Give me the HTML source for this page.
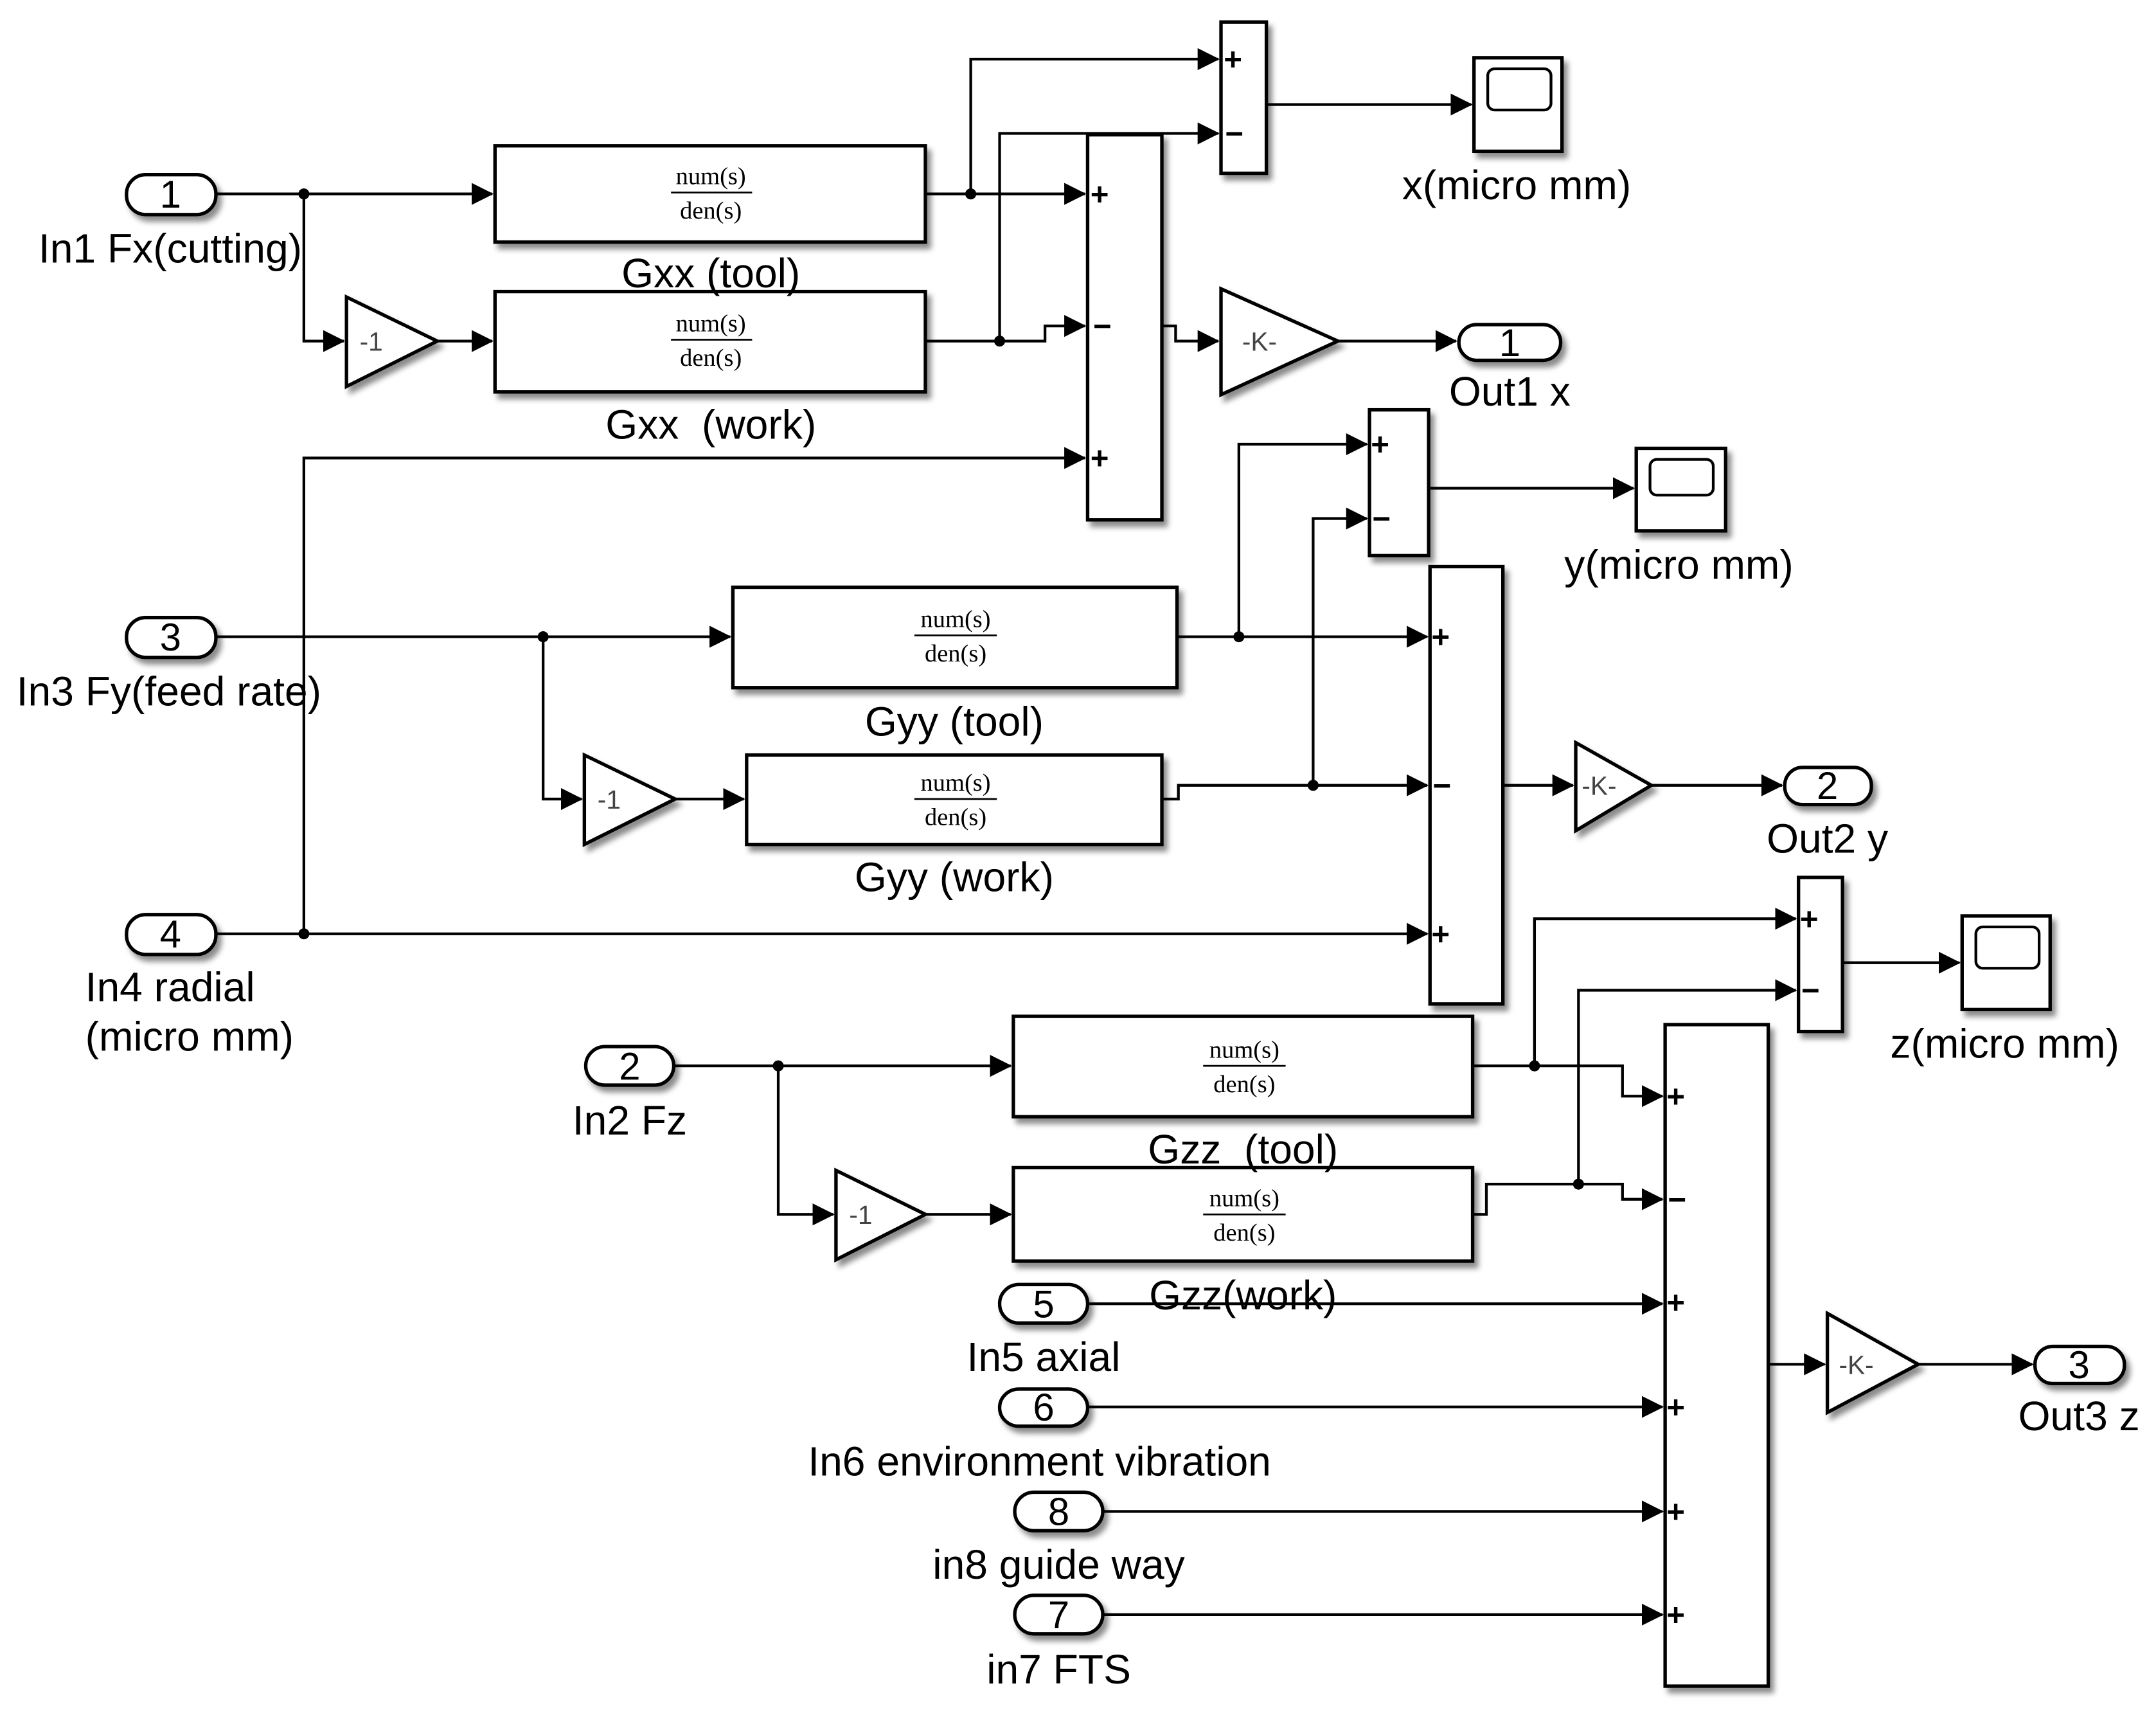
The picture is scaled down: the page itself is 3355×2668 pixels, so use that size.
<!DOCTYPE html>
<html><head><meta charset="utf-8"><style>html,body{margin:0;padding:0;background:#fff}svg{display:block}</style></head><body>
<svg xmlns="http://www.w3.org/2000/svg" width="3355" height="2668" viewBox="0 0 1568 1247" preserveAspectRatio="none">
<defs>
<marker id="a" markerUnits="userSpaceOnUse" markerWidth="16" markerHeight="16" refX="15" refY="8" orient="auto"><path d="M0,0 L16,8 L0,16 Z" fill="#000"/></marker>
<filter id="s" x="-20%" y="-20%" width="150%" height="150%"><feDropShadow dx="3" dy="4" stdDeviation="2" flood-color="#000" flood-opacity="0.45"/></filter>
</defs>
<rect width="1568" height="1247" fill="#fff"/>
<g fill="#fff" stroke="#000" stroke-width="2.5" filter="url(#s)">
<rect x="92" y="127" width="65" height="29" rx="14"/>
<rect x="92" y="449" width="65" height="29" rx="14"/>
<rect x="92" y="665" width="65" height="29" rx="14"/>
<rect x="426" y="761" width="64" height="28" rx="14"/>
<rect x="727" y="934" width="64" height="28" rx="14"/>
<rect x="727" y="1010" width="64" height="27" rx="14"/>
<rect x="738" y="1085" width="64" height="28" rx="14"/>
<rect x="738" y="1160" width="64" height="28" rx="14"/>
<rect x="1061" y="236" width="74" height="26" rx="13"/>
<rect x="1298" y="558" width="63" height="27" rx="13"/>
<rect x="1480" y="979" width="65" height="27" rx="13"/>
<rect x="360" y="106" width="313" height="70"/>
<rect x="360" y="212" width="313" height="73"/>
<rect x="533" y="427" width="323" height="73"/>
<rect x="543" y="549" width="302" height="65"/>
<rect x="737" y="739" width="334" height="73"/>
<rect x="737" y="849" width="334" height="68"/>
<rect x="791" y="98" width="54" height="280"/>
<rect x="888" y="16" width="33" height="110"/>
<rect x="996" y="298" width="43" height="106"/>
<rect x="1040" y="412" width="53" height="318"/>
<rect x="1308" y="638" width="32" height="112"/>
<rect x="1211" y="745" width="75" height="481"/>
<rect x="1072" y="42" width="64" height="68"/>
<rect x="1190" y="326" width="65" height="60"/>
<rect x="1427" y="666" width="64" height="68"/>
<path d="M252,216 L318,248 L252,281 Z"/>
<path d="M425,549 L491,581 L425,614 Z"/>
<path d="M608,851 L673,883 L608,916 Z"/>
<path d="M888,210 L973,248 L888,287 Z"/>
<path d="M1146,540 L1201,571 L1146,604 Z"/>
<path d="M1329,955 L1395,992 L1329,1027 Z"/>
</g>
<g fill="none" stroke="#000" stroke-width="2">
<rect x="1082" y="50" width="46" height="30" rx="5"/>
<rect x="1200" y="334" width="46" height="26" rx="5"/>
<rect x="1437" y="674" width="46" height="30" rx="5"/>
</g>
<g fill="none" stroke="#000" stroke-width="2">
<path d="M157,141 H358" marker-end="url(#a)"/>
<path d="M221,141 V248 H250" marker-end="url(#a)"/>
<path d="M318,248 H358" marker-end="url(#a)"/>
<path d="M673,141 H789" marker-end="url(#a)"/>
<path d="M706,141 V43 H886" marker-end="url(#a)"/>
<path d="M673,248 H760 V237 H789" marker-end="url(#a)"/>
<path d="M727,248 V97 H886" marker-end="url(#a)"/>
<path d="M921,76 H1070" marker-end="url(#a)"/>
<path d="M845,237 H855 V248 H886" marker-end="url(#a)"/>
<path d="M973,248 H1059" marker-end="url(#a)"/>
<path d="M221,679 V333 H789" marker-end="url(#a)"/>
<path d="M157,463 H531" marker-end="url(#a)"/>
<path d="M395,463 V581 H423" marker-end="url(#a)"/>
<path d="M491,581 H541" marker-end="url(#a)"/>
<path d="M856,463 H1038" marker-end="url(#a)"/>
<path d="M901,463 V323 H994" marker-end="url(#a)"/>
<path d="M845,581 H857 V571 H1038" marker-end="url(#a)"/>
<path d="M955,571 V377 H994" marker-end="url(#a)"/>
<path d="M1039,355 H1188" marker-end="url(#a)"/>
<path d="M1093,571 H1144" marker-end="url(#a)"/>
<path d="M1201,571 H1296" marker-end="url(#a)"/>
<path d="M157,679 H1038" marker-end="url(#a)"/>
<path d="M490,775 H735" marker-end="url(#a)"/>
<path d="M566,775 V883 H606" marker-end="url(#a)"/>
<path d="M673,883 H735" marker-end="url(#a)"/>
<path d="M1071,775 H1180 V797 H1209" marker-end="url(#a)"/>
<path d="M1116,775 V668 H1306" marker-end="url(#a)"/>
<path d="M1071,883 H1081 V861 H1180 V872 H1209" marker-end="url(#a)"/>
<path d="M1148,861 V720 H1306" marker-end="url(#a)"/>
<path d="M1340,700 H1425" marker-end="url(#a)"/>
<path d="M1286,992 H1327" marker-end="url(#a)"/>
<path d="M1395,992 H1478" marker-end="url(#a)"/>
<path d="M791,948 H1209" marker-end="url(#a)"/>
<path d="M791,1023 H1209" marker-end="url(#a)"/>
<path d="M802,1099 H1209" marker-end="url(#a)"/>
<path d="M802,1174 H1209" marker-end="url(#a)"/>
</g>
<g fill="#000">
<circle cx="221" cy="141" r="4"/><circle cx="706" cy="141" r="4"/><circle cx="727" cy="248" r="4"/>
<circle cx="221" cy="679" r="4"/><circle cx="395" cy="463" r="4"/><circle cx="901" cy="463" r="4"/>
<circle cx="955" cy="571" r="4"/><circle cx="566" cy="775" r="4"/><circle cx="1116" cy="775" r="4"/>
<circle cx="1148" cy="861" r="4"/>
</g>
<g font-family="Liberation Serif, serif" font-size="18" text-anchor="middle" fill="#000">
<text x="517" y="134">num(s)</text><text x="517" y="159">den(s)</text>
<text x="517" y="241">num(s)</text><text x="517" y="266">den(s)</text>
<text x="695" y="456">num(s)</text><text x="695" y="481">den(s)</text>
<text x="695" y="575">num(s)</text><text x="695" y="600">den(s)</text>
<text x="905" y="769">num(s)</text><text x="905" y="794">den(s)</text>
<text x="905" y="877">num(s)</text><text x="905" y="902">den(s)</text>
</g>
<g stroke="#000" stroke-width="1.3">
<path d="M488,140 H547 M488,247 H547 M665,462 H725 M665,581 H725 M875,775 H935 M875,883 H935"/>
</g>
<g font-family="Liberation Sans, sans-serif" font-size="23" font-weight="bold" fill="#000">
<text x="793" y="149">+</text><text x="795" y="245">−</text><text x="793" y="341">+</text>
<text x="890" y="51">+</text><text x="891" y="105">−</text>
<text x="997" y="331">+</text><text x="998" y="385">−</text>
<text x="1041" y="471">+</text><text x="1042" y="579">−</text><text x="1041" y="687">+</text>
<text x="1309" y="676">+</text><text x="1310" y="728">−</text>
<text x="1212" y="805">+</text><text x="1213" y="880">−</text><text x="1212" y="955">+</text><text x="1212" y="1031">+</text><text x="1212" y="1107">+</text><text x="1212" y="1182">+</text>
</g>
<g font-family="Liberation Sans, sans-serif" font-size="19" fill="#444" text-anchor="middle">
<text x="270" y="255">-1</text><text x="443" y="588">-1</text><text x="626" y="890">-1</text>
<text x="916" y="255">-K-</text><text x="1163" y="578">-K-</text><text x="1350" y="999">-K-</text>
</g>
<g font-family="Liberation Sans, sans-serif" font-size="28" fill="#000" text-anchor="middle">
<text x="124" y="151">1</text><text x="124" y="473">3</text><text x="124" y="689">4</text>
<text x="458" y="785">2</text><text x="759" y="958">5</text><text x="759" y="1033">6</text>
<text x="770" y="1109">8</text><text x="770" y="1184">7</text>
<text x="1098" y="259">1</text><text x="1329" y="581">2</text><text x="1512" y="1002">3</text>
</g>
<g font-family="Liberation Sans, sans-serif" font-size="30" fill="#000">
<text x="28" y="191">In1 Fx(cutting)</text>
<text x="12" y="513">In3 Fy(feed rate)</text>
<text x="62" y="728">In4 radial</text>
<text x="62" y="764">(micro mm)</text>
<g text-anchor="middle">
<text x="517" y="209">Gxx (tool)</text>
<text x="517" y="319" xml:space="preserve">Gxx  (work)</text>
<text x="1103" y="145">x(micro mm)</text>
<text x="1098" y="295">Out1 x</text>
<text x="1221" y="421">y(micro mm)</text>
<text x="694" y="535">Gyy (tool)</text>
<text x="694" y="648">Gyy (work)</text>
<text x="1329" y="620">Out2 y</text>
<text x="1458" y="769">z(micro mm)</text>
<text x="458" y="825">In2 Fz</text>
<text x="904" y="846" xml:space="preserve">Gzz  (tool)</text>
<text x="904" y="952">Gzz(work)</text>
<text x="759" y="997">In5 axial</text>
<text x="756" y="1073">In6 environment vibration</text>
<text x="770" y="1148">in8 guide way</text>
<text x="770" y="1224">in7 FTS</text>
<text x="1512" y="1040">Out3 z</text>
</g>
</g>
</svg>
</body></html>
